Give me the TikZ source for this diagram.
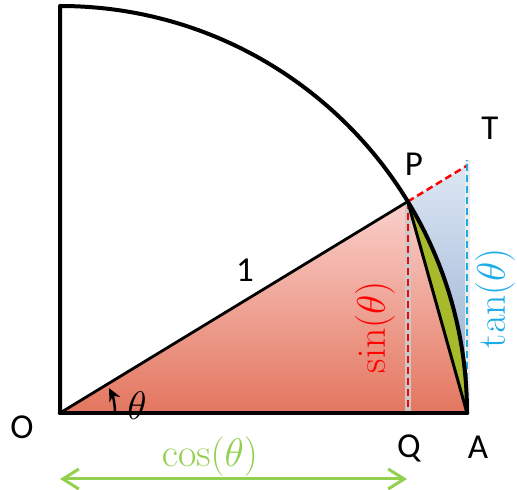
\documentclass[tikz,border=0pt]{standalone}
\usepackage[no-math]{fontspec}
\newfontfamily\labfont{Carlito}
\usetikzlibrary{arrows.meta,calc}
\definecolor{sinred}{HTML}{FF0000}
\definecolor{tanblue}{HTML}{1EACE6}
\definecolor{cosgreen}{HTML}{92D050}
\definecolor{segg}{HTML}{A6BA2B}
\definecolor{pinktop}{HTML}{FAD0CB}
\definecolor{pinkbot}{HTML}{E3765F}
\definecolor{bluetop}{HTML}{DCE7F3}
\definecolor{bluebot}{HTML}{8FA9CF}
\definecolor{guide}{HTML}{C9C9C9}
\newcommand{\bigmath}[1]{\scalebox{1.6}{\Huge$#1$}}
\tikzset{
  lab/.style={font=\labfont\fontsize{35}{35}\selectfont, inner sep=0pt},
  mlab/.style={inner sep=0pt},
  bold line/.style={line width=4pt, line join=round, line cap=round},
}
\begin{document}
\begin{tikzpicture}[x=1pt,y=1pt]
\useasboundingbox (0,0) rectangle (517,490);
\def\R{407}
\def\th{31.3}
\coordinate (O) at (60,77);
\coordinate (A) at ($(O)+(\R,0)$);
\coordinate (Top) at ($(O)+(0,\R)$);
\coordinate (P) at ($(O)+(\th:\R)$);
\coordinate (Q) at (P |- O);
\coordinate (T) at ($(O)+(\R,{\R*tan(\th)})$);
\coordinate (Tx) at ($(T)+(0,6)$);
% fills
\shade[top color=pinktop, bottom color=pinkbot] (O) -- (P) -- (A) -- cycle;
\shade[top color=bluetop, bottom color=bluebot] (P) -- (T) -- (A) -- cycle;
\fill[segg] (P) arc[start angle=\th, end angle=0, radius=\R] -- cycle;
% guide bands
\draw[guide, line width=6pt] (P) -- (Q);
\draw[white!85!gray, line width=5pt] (A) -- (Tx);
% dashed
\draw[sinred, line width=2.5pt, dash pattern=on 7pt off 4pt] (P) -- (Q);
\draw[sinred, line width=2.5pt, dash pattern=on 7pt off 4pt] (P) -- (T);
\draw[tanblue, line width=2.5pt, dash pattern=on 7pt off 4pt] (A) -- (Tx);
% black lines
\draw[line width=2.8pt] (O) -- (P);
\draw[line width=3pt, line cap=round] (P) -- (A);
\draw[bold line] (O) -- (Top) arc[start angle=90, end angle=0, radius=\R];
\draw[line width=4.5pt, line cap=round] (O) -- (A);
% angle arrow
\coordinate (a0) at ($(O)+(55,0)$);
\draw[line width=2.5pt, -{Stealth[length=13pt, width=12pt]}] (a0) arc[start angle=0, end angle=27, radius=55];
% cos arrow
\coordinate (c0) at (60,11);
\coordinate (c1) at (407,11);
\draw[cosgreen, line width=3pt, {Straight Barb[length=16pt, width=20pt]}-{Straight Barb[length=16pt, width=20pt]}] (c0) -- (c1);
% labels
\node[lab] (lO) at (22,63) {O};
\node[lab] (lQ) at (409,42) {Q};
\node[lab] (lA) at (478,43) {A};
\node[lab] (lP) at (414,326) {P};
\node[lab] (lT) at (490,362) {T};
\node[lab] (l1) at (245,220) {1};
\node[mlab] (lth) at (137,84) {\bigmath{\theta}};
\node[mlab, text=sinred, rotate=90] (lsin) at (375,163) {\bigmath{\sin(\theta)}};
\node[mlab, text=tanblue, rotate=90] (ltan) at (495,192) {\bigmath{\tan(\theta)}};
\node[mlab, text=cosgreen] (lcos) at (210,33) {\bigmath{\cos(\theta)}};
\end{tikzpicture}
\end{document}
